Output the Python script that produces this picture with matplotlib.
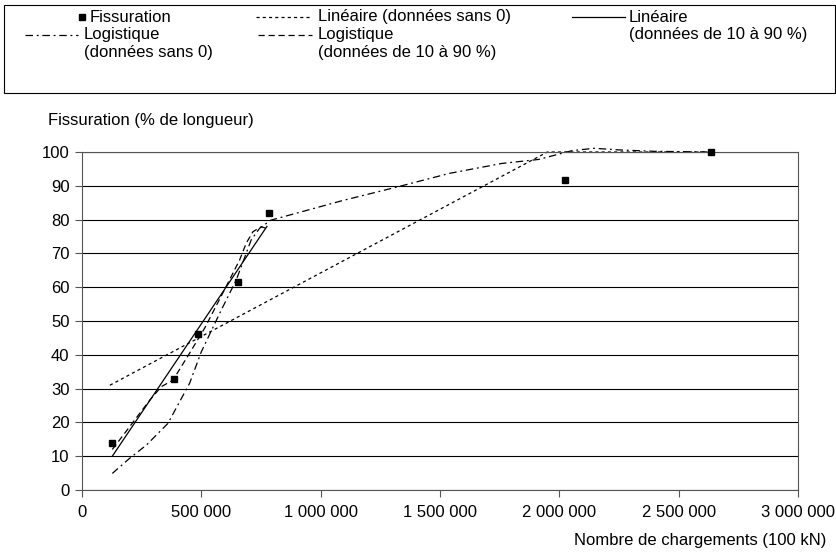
import matplotlib
matplotlib.use("Agg")
import matplotlib.pyplot as plt
from matplotlib.lines import Line2D
from matplotlib.patches import Rectangle
from matplotlib.ticker import FuncFormatter, MultipleLocator

plt.rcParams['font.family'] = ['Liberation Sans', 'DejaVu Sans']
plt.rcParams['font.size'] = 12

# Measured data (Fissuration)
x_fiss = [126700, 385800, 486000, 653000, 782000, 2025000, 2635000]
y_fiss = [14.0, 32.8, 46.1, 61.6, 82.0, 91.7, 100.0]

# Linear fit, data without 0
x_lin0 = [117000, 1950000, 2635000]
y_lin0 = [31.0, 100.0, 100.0]

# Linear fit, data from 10 to 90 %
x_lin1090 = [127000, 775000]
y_lin1090 = [10.0, 78.0]

# Logistic fit, data without 0
x_log0 = [127000, 200000, 270000, 360000, 451000, 500000, 577000, 646000,
          709000, 744000, 790000, 1090000, 1323000, 1541000, 1758000,
          1913000, 2053000, 2146000, 2255000, 2400000, 2635000]
y_log0 = [4.9, 9.4, 13.3, 19.7, 31.6, 40.9, 52.3, 62.1,
          74.0, 77.4, 79.8, 85.6, 89.7, 93.7, 96.6,
          97.8, 100.4, 101.1, 100.6, 100.2, 100.0]

# Logistic fit, data from 10 to 90 %
x_log1090 = [127000, 180000, 284000, 333000, 381000, 451000, 514000,
             604000, 660000, 688000, 716000, 751000, 772000]
y_log1090 = [12.0, 16.9, 26.6, 30.6, 32.5, 40.5, 47.9,
             60.2, 68.0, 73.0, 76.4, 77.9, 77.4]

W, H = 837, 554
fig = plt.figure(figsize=(W / 100, H / 100), dpi=100)
ax = fig.add_axes([82 / W, 1 - 490 / H, (798 - 82) / W, (490 - 152) / H])

lw = 0.9
sty_dot = dict(color='black', lw=lw, linestyle=(0, (2.5, 2.5)))
sty_solid = dict(color='black', lw=lw, linestyle='-')
sty_dashdot = dict(color='black', lw=lw, linestyle=(0, (6, 3, 1.5, 3)))
sty_dash = dict(color='black', lw=lw, linestyle=(0, (5, 3)))

ax.plot(x_lin0, y_lin0, clip_on=False, **sty_dot)
ax.plot(x_lin1090, y_lin1090, clip_on=False, **sty_solid)
ax.plot(x_log0, y_log0, clip_on=False, **sty_dashdot)
ax.plot(x_log1090, y_log1090, clip_on=False, **sty_dash)
ax.plot(x_fiss, y_fiss, linestyle='none', marker='s', markersize=5,
        color='black', clip_on=False, zorder=5)

ax.set_xlim(0, 3000000)
ax.set_ylim(0, 100)
ax.xaxis.set_major_locator(MultipleLocator(500000))
ax.yaxis.set_major_locator(MultipleLocator(10))
ax.xaxis.set_major_formatter(
    FuncFormatter(lambda v, p: f"{int(v):,}".replace(',', ' ')))
ax.grid(axis='y', color='black', lw=0.8)
ax.set_axisbelow(True)
for s in ax.spines.values():
    s.set_color('#555555')
    s.set_linewidth(0.8)
ax.tick_params(direction='out', length=5, width=0.8, color='#555555',
               labelsize=12, pad=4)
ax.tick_params(axis='x', pad=6)

fig.text(48 / W, 1 - 120 / H, "Fissuration (% de longueur)",
         ha='left', va='center', fontsize=12)
fig.text(826 / W, 1 - 541 / H, "Nombre de chargements (100 kN)",
         ha='right', va='center', fontsize=12)

# legend drawn by hand (columns laid out independently like the source)
def fx(x):
    return x / W

def fy(y):
    return 1 - y / H

fig.add_artist(Rectangle((fx(4), fy(93)), fx(831), 88 / H, fill=False,
                         edgecolor='black', lw=0.8, transform=fig.transFigure))

def handle(x0, x1, y, **style):
    fig.add_artist(Line2D([fx(x0), fx(x1)], [fy(y), fy(y)],
                          transform=fig.transFigure, **style))

def label(x, y, s):
    fig.text(fx(x), fy(y), s, ha='left', va='center', fontsize=12)

fig.add_artist(Line2D([fx(82)], [fy(17)], marker='s', markersize=5,
                      color='black', linestyle='none',
                      transform=fig.transFigure))
label(90, 17, "Fissuration")
handle(256, 312, 17, **sty_dot)
label(318, 17, "Linéaire (données sans 0)")
handle(572, 625, 17, **sty_solid)
label(629, 17, "Linéaire")
label(629, 35, "(données de 10 à 90 %)")
handle(25, 78, 35, **sty_dashdot)
label(84, 35, "Logistique")
label(84, 53, "(données sans 0)")
handle(258, 312, 35, **sty_dash)
label(318, 35, "Logistique")
label(318, 53, "(données de 10 à 90 %)")

fig.savefig("out.png", dpi=100)
